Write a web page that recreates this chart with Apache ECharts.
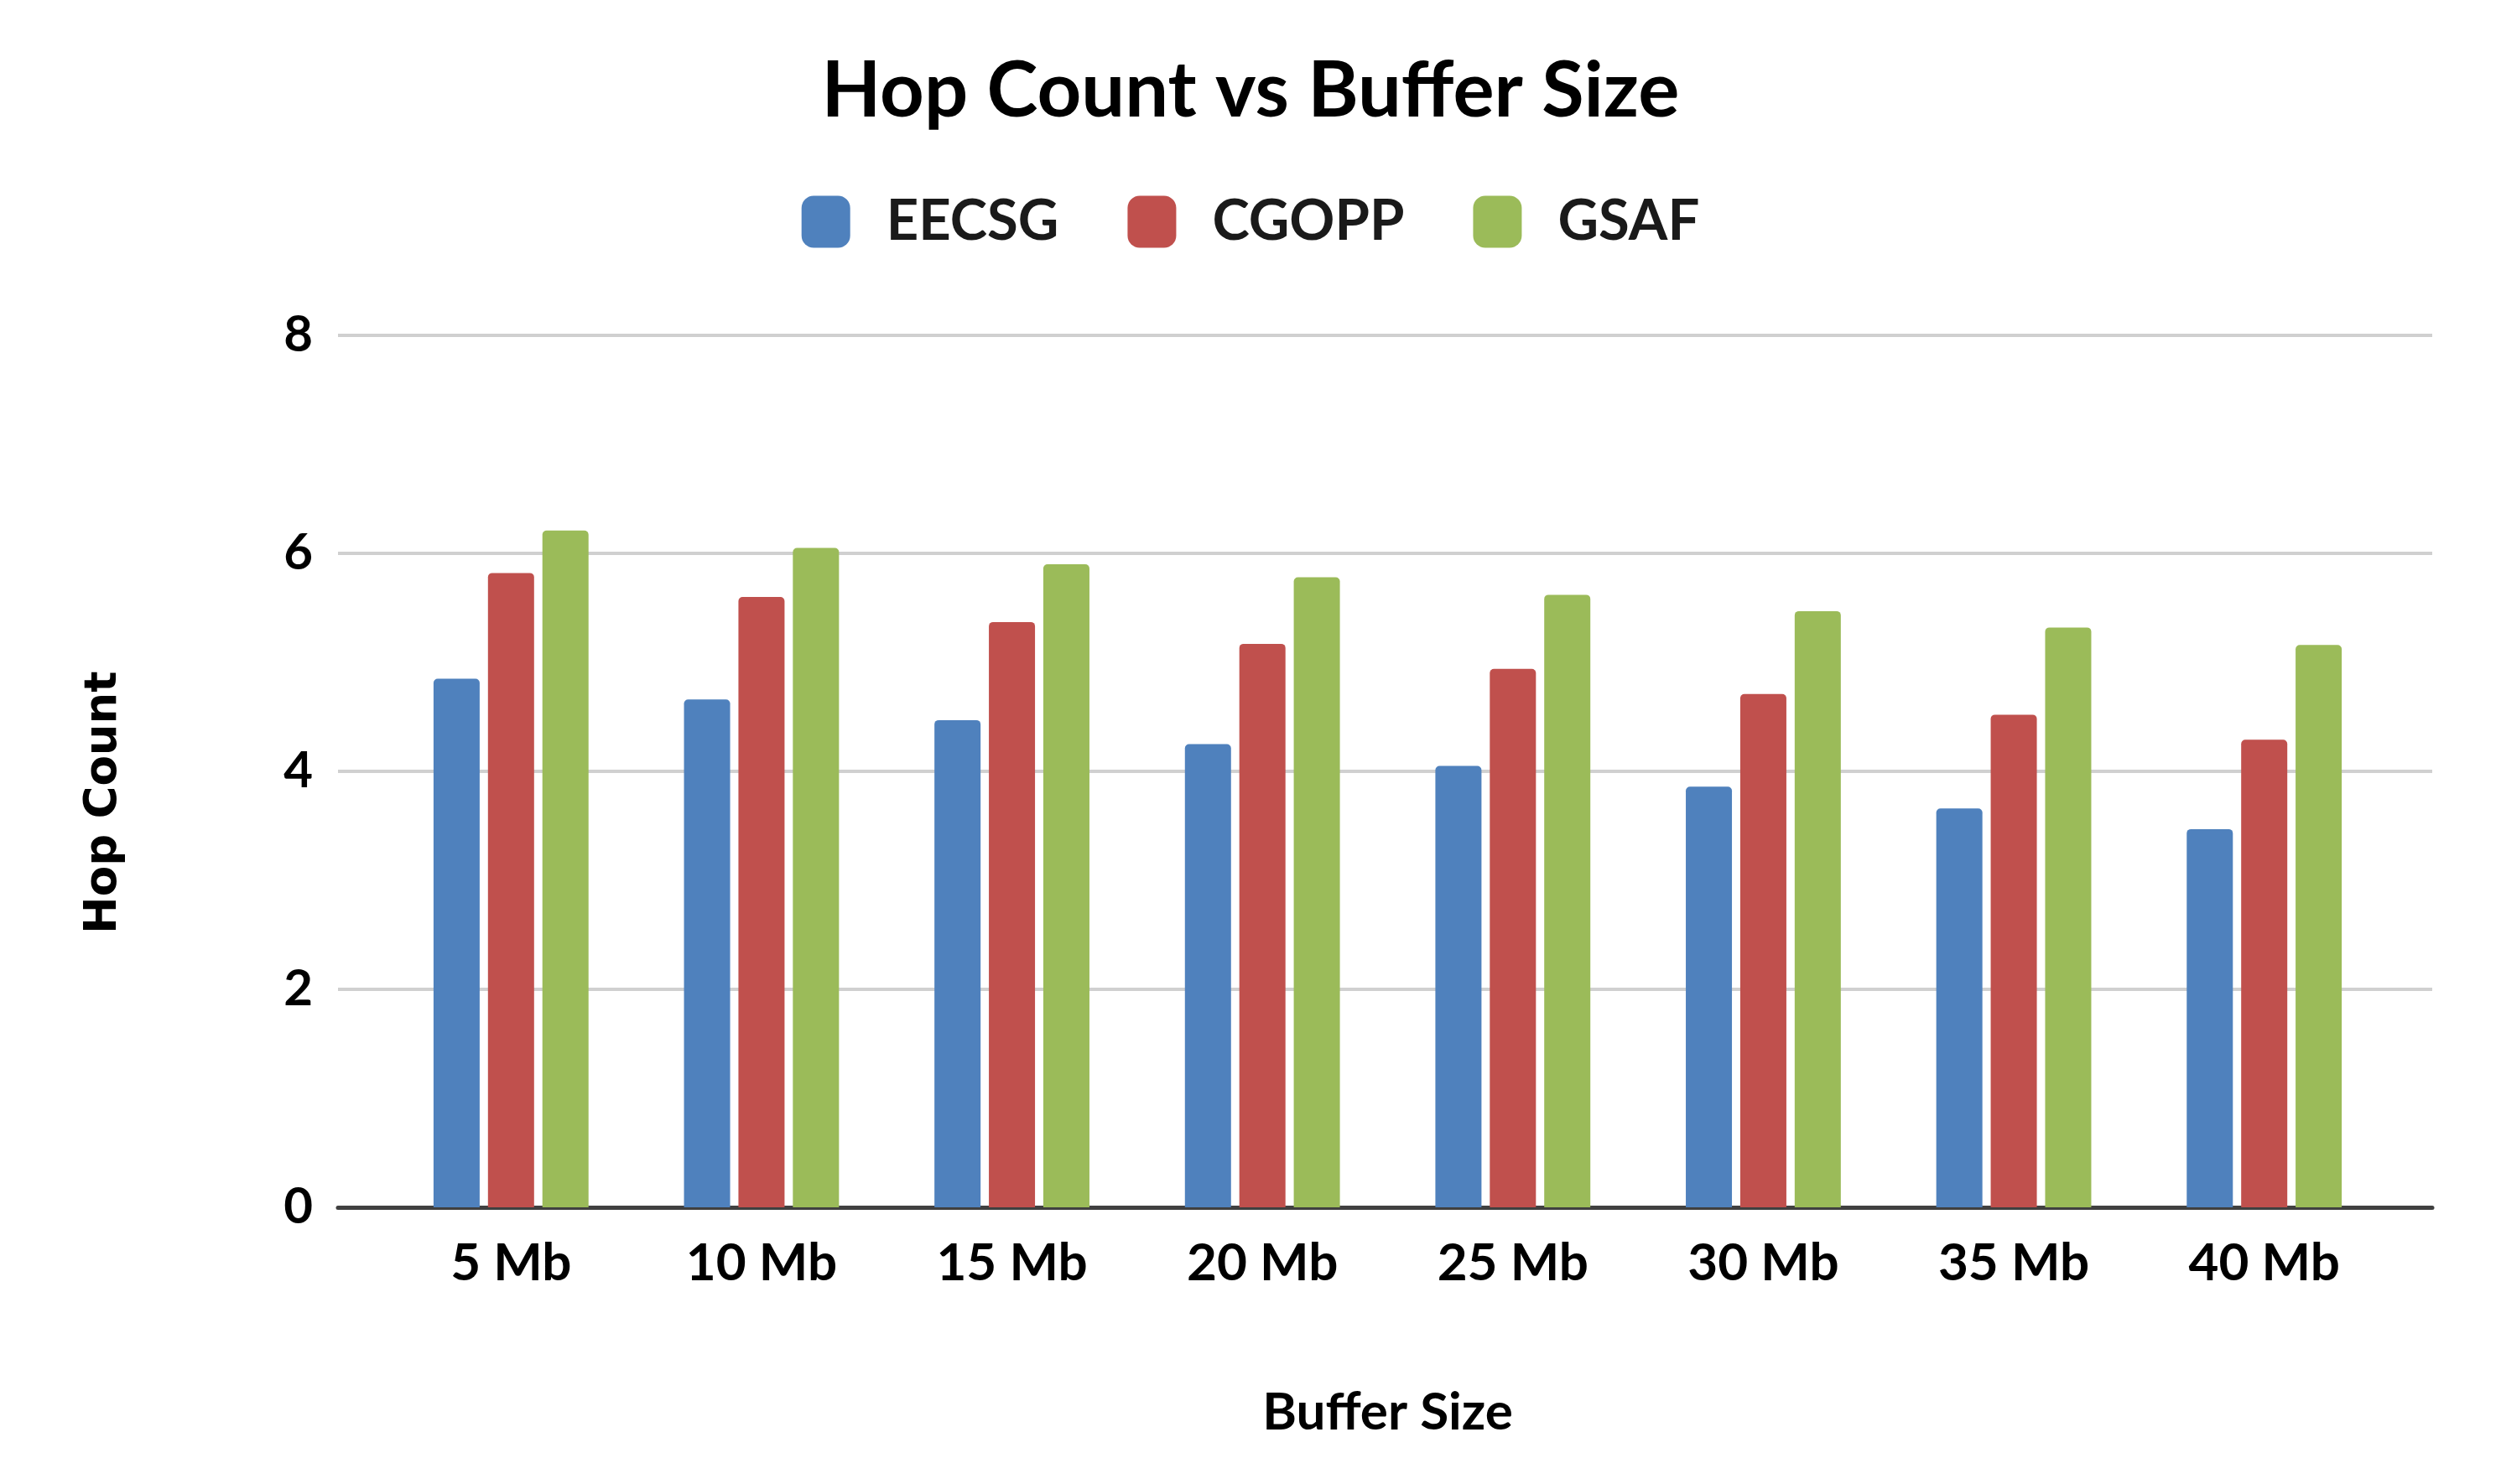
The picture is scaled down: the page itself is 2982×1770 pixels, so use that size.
<!DOCTYPE html>
<html>
<head>
<meta charset="utf-8">
<script src="https://cdn.jsdelivr.net/npm/echarts@6/dist/echarts.min.js"></script>
<style>
  html, body { margin: 0; padding: 0; background: #fff; }
  #chart { width: 2982px; height: 1770px; }
</style>
</head>
<body>
<div id="chart"></div>
<script>
var categories = ['5 Mb', '10 Mb', '15 Mb', '20 Mb', '25 Mb', '30 Mb', '35 Mb', '40 Mb'];
var eecsg = [4.85, 4.66, 4.47, 4.25, 4.05, 3.86, 3.66, 3.47];
var cgopp = [5.82, 5.60, 5.37, 5.17, 4.94, 4.71, 4.52, 4.29];
var gsaf = [6.21, 6.05, 5.90, 5.78, 5.62, 5.47, 5.32, 5.16];
var yTicks = [0, 2, 4, 6, 8];

var FONT = 'Lato';
var dom = document.getElementById('chart');
var myChart = echarts.init(dom);

function barSeries(name, data, color) {
    return {
        name: name,
        type: 'bar',
        xAxisIndex: 1,
        yAxisIndex: 1,
        data: data,
        barWidth: 55,
        barGap: '18%',
        itemStyle: {
            color: color,
            borderRadius: [5, 5, 0, 0]
        }
    };
}

var option = {
    backgroundColor: '#fff',
    animation: false,
    title: {
        text: 'Hop Count vs Buffer Size',
        left: 'center',
        top: 58,
        textStyle: {
            fontFamily: FONT,
            fontWeight: 'bold',
            fontSize: 92,
            color: '#000'
        }
    },
    legend: {
        top: 226,
        left: 'center',
        itemWidth: 58,
        itemHeight: 62,
        itemGap: 82,
        icon: 'roundRect',
        textStyle: {
            fontFamily: FONT,
            fontWeight: 'bold',
            fontSize: 67,
            color: '#1a1a1a',
            padding: [0, 0, 0, 38]
        },
        data: ['EECSG', 'CGOPP', 'GSAF']
    },
    grid: [
        { left: 403, right: 82, top: 400, bottom: 330 },
        { left: 460, right: 133, top: 400, bottom: 330 }
    ],
    xAxis: [
        {
            type: 'category',
            gridIndex: 0,
            data: categories,
            axisLine: { lineStyle: { color: '#404040', width: 5 } },
            axisTick: { show: false },
            axisLabel: { show: false }
        },
        {
            type: 'category',
            gridIndex: 1,
            data: categories,
            axisLine: { show: false },
            axisTick: { show: false },
            axisLabel: {
                margin: 36,
                fontFamily: FONT,
                fontWeight: 'bold',
                fontSize: 62,
                color: '#000'
            },
            name: 'Buffer Size',
            nameLocation: 'middle',
            nameGap: 214,
            nameTextStyle: {
                fontFamily: FONT,
                fontWeight: 'bold',
                fontSize: 62,
                color: '#000'
            }
        }
    ],
    yAxis: [
        {
            type: 'value',
            gridIndex: 0,
            min: yTicks[0],
            max: yTicks[yTicks.length - 1],
            interval: 2,
            axisLine: { show: false },
            axisTick: { show: false },
            axisLabel: {
                margin: 30,
                fontFamily: FONT,
                fontWeight: 'bold',
                fontSize: 60,
                color: '#000'
            },
            splitLine: { lineStyle: { color: '#d0d0d0', width: 4 } },
            name: 'Hop Count',
            nameLocation: 'middle',
            nameRotate: 90,
            nameGap: 252,
            nameTextStyle: {
                fontFamily: 'DejaVu Sans',
                fontWeight: 'bold',
                fontSize: 53,
                color: '#000',
                padding: [0, 74, 0, 0]
            }
        },
        {
            type: 'value',
            gridIndex: 1,
            min: yTicks[0],
            max: yTicks[yTicks.length - 1],
            interval: 2,
            show: false,
            splitLine: { show: false }
        }
    ],
    series: [
        barSeries('EECSG', eecsg, '#4f81bd'),
        barSeries('CGOPP', cgopp, '#c0504d'),
        barSeries('GSAF', gsaf, '#9bbb59')
    ]
};

if (option && typeof option === 'object') {
    myChart.setOption(option, true);
}
</script>
</body>
</html>
